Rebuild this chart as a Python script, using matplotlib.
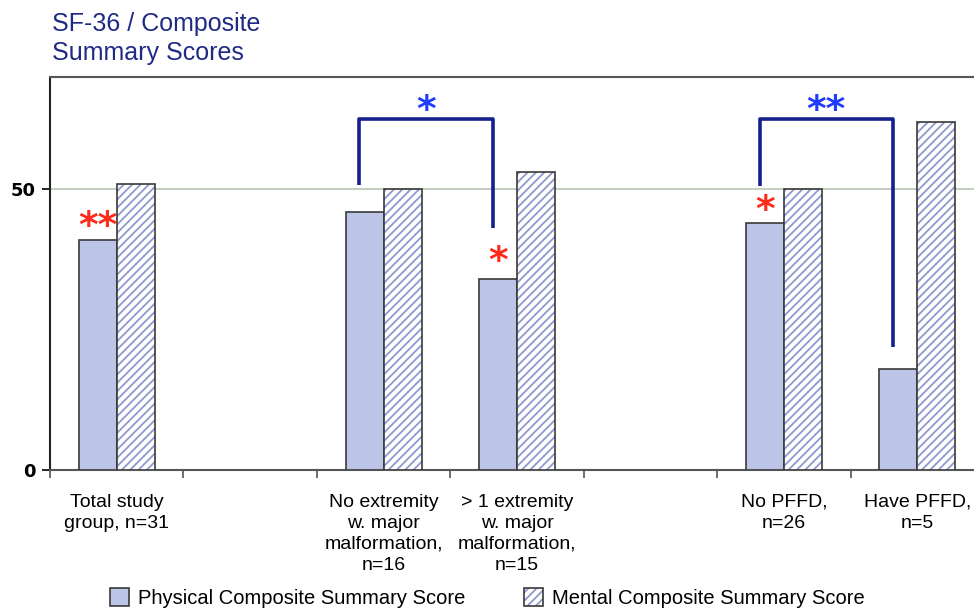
import matplotlib
matplotlib.use("Agg")
import matplotlib.pyplot as plt
from matplotlib.patches import Patch

plt.rcParams['font.family'] = ['Liberation Sans', 'DejaVu Sans']
plt.rcParams['hatch.linewidth'] = 1.3

# Data
categories = ["Total study\ngroup, n=31",
              "No extremity\nw. major\nmalformation,\nn=16",
              "> 1 extremity\nw. major\nmalformation,\nn=15",
              "No PFFD,\nn=26",
              "Have PFFD,\nn=5"]
physical = [41, 46, 34, 44, 18]
mental = [51, 50, 53, 50, 62]
series_names = ["Physical Composite Summary Score", "Mental Composite Summary Score"]
y_ticks = [0, 50]

# Slot index of each group along the axis (empty slots separate the comparisons)
slots = [0, 2, 3, 5, 6]
n_slots = 7
width = 0.285

phys_color = '#bcc4e8'
hatch_color = '#8e99cf'
edge_color = '#3a3a3a'
navy = '#16208c'
star_red = '#ff2a1a'
star_blue = '#1f3cff'

fig = plt.figure(figsize=(9.74, 6.13), dpi=100)
ax = fig.add_axes([50/974, 1 - 470/613, 934/974, (470 - 77)/613])

px = [s - width/2 for s in slots]
mx = [s + width/2 for s in slots]
ax.bar(px, physical, width=width, color=phys_color, edgecolor=edge_color,
       linewidth=1.2, zorder=3)
# hatched fill first (hatch takes the edge colour), then the dark outline
ax.bar(mx, mental, width=width, color='white', edgecolor=hatch_color,
       linewidth=0, hatch='////', zorder=3)
ax.bar(mx, mental, width=width, color='none', edgecolor=edge_color,
       linewidth=1.2, zorder=3.1)

ax.axhline(50, color='#b9c7b3', linewidth=1.2, zorder=1)

ax.set_xlim(-0.5, n_slots - 0.5)
ax.set_ylim(0, 70)

# Group labels below the axis, boundary ticks between slots
ax.set_xticks([s for s in slots])
ax.set_xticklabels(categories, fontsize=14, linespacing=1.32, va='top')
ax.tick_params(axis='x', which='major', length=0, pad=17)
ax.set_xticks([i - 0.5 for i in range(n_slots + 1)], minor=True)
ax.tick_params(axis='x', which='minor', length=6, width=1.2, color='#555555',
               direction='out')

ax.set_yticks(y_ticks)
ax.set_yticklabels([str(t) for t in y_ticks], fontsize=13, fontweight='bold',
                   family='DejaVu Sans')
ax.tick_params(axis='y', length=6, width=1.2, direction='out', pad=4)

for side in ['left', 'top', 'bottom', 'right']:
    ax.spines[side].set_linewidth(1.5)
ax.spines['left'].set_color('#222222')
ax.spines['top'].set_color('#555555')
ax.spines['bottom'].set_color('#555555')

# Significance brackets between physical scores
def bracket(i, j, top, left_end, right_end, label):
    x0 = px[i] - 0.04
    x1 = px[j] - 0.04
    ax.plot([x0, x0, x1, x1], [left_end, top, top, right_end], color=navy,
            linewidth=2.6, solid_joinstyle='round', solid_capstyle='butt',
            zorder=4)
    ax.text((x0 + x1) / 2, top + 1.4, label, color=star_blue, fontsize=27,
            fontweight='bold', ha='center', va='center', family='DejaVu Sans')

bracket(1, 2, 62.6, 50.7, 43.1, "*")
bracket(3, 4, 62.6, 50.5, 21.9, "**")

# Significance against population norm
red_marks = [(0, "**", 43.2), (2, "*", 37.0), (3, "*", 46.1)]
for idx, lab, yv in red_marks:
    ax.text(px[idx], yv, lab, color=star_red, fontsize=27, fontweight='bold',
            ha='center', va='center', family='DejaVu Sans')

# Title
fig.text(52/974, 1 - 60/613, "SF-36 / Composite\nSummary Scores", color='#1f2a85',
         fontsize=18, ha='left', va='baseline', linespacing=1.25)

handles = [Patch(facecolor=phys_color, edgecolor=edge_color, linewidth=1.2),
           (Patch(facecolor='white', edgecolor=hatch_color, linewidth=0, hatch='////'),
            Patch(facecolor='none', edgecolor=edge_color, linewidth=1.2))]
fig.legend(handles, series_names, loc='center', bbox_to_anchor=(487/974, 1 - 598/613),
           ncol=2, frameon=False, fontsize=14.5, handlelength=0.95, handleheight=0.95,
           handletextpad=0.45, columnspacing=2.9)

fig.savefig("out.png", dpi=100)
